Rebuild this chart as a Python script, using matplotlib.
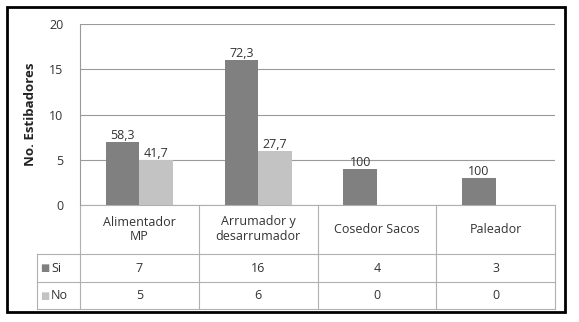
import matplotlib
matplotlib.use("Agg")
import matplotlib.pyplot as plt
from matplotlib.transforms import blended_transform_factory
from matplotlib.patches import Rectangle

categories = ["Alimentador\nMP", "Arrumador y\ndesarrumador", "Cosedor Sacos", "Paleador"]
series_names = ["Si", "No"]
si_values = [7, 16, 4, 3]
no_values = [5, 6, 0, 0]
si_labels = ["58,3", "72,3", "100", "100"]
no_labels = ["41,7", "27,7", "", ""]
yticks = [0, 5, 10, 15, 20]

plt.rcParams['font.family'] = ['Open Sans', 'DejaVu Sans']
FS = 9
W, H = 579, 322
fig = plt.figure(figsize=(W / 100, H / 100), dpi=100)
fig.patch.set_facecolor("white")

# outer border
fig.add_artist(Rectangle((7 / W, 1 - 312 / H), (565 - 7) / W, (312 - 7) / H,
                         transform=fig.transFigure, fill=False, edgecolor="black", lw=2))

left, right, top, zero = 80, 555, 24, 205
ax = fig.add_axes([left / W, 1 - zero / H, (right - left) / W, (zero - top) / H])

c_si = "#808080"
c_no = "#c3c3c3"
grid_c = "#9a9a9a"
text_c = "#333333"

x = list(range(len(categories)))
bw = 0.282
b1 = ax.bar([i - bw / 2 for i in x], si_values, width=bw, color=c_si, zorder=3)
b2 = ax.bar([i + bw / 2 for i in x], no_values, width=bw, color=c_no, zorder=3)
for rect, lab in zip(b1, si_labels):
    ax.annotate(lab, (rect.get_x() + rect.get_width() / 2, rect.get_height()),
                xytext=(0, 0), textcoords="offset points", ha="center", va="bottom",
                fontsize=FS, color=text_c)
for rect, lab in zip(b2, no_labels):
    if lab:
        ax.annotate(lab, (rect.get_x() + rect.get_width() / 2, rect.get_height()),
                    xytext=(0, 0), textcoords="offset points", ha="center", va="bottom",
                    fontsize=FS, color=text_c)

ax.set_xlim(-0.5, len(categories) - 0.5)
ax.set_ylim(0, 20)
ax.set_yticks(yticks)
ax.set_yticklabels([str(t) for t in yticks], fontsize=FS, color=text_c)
ax.tick_params(axis="y", length=0, pad=12)
ax.set_xticks([])
for s in ["top", "right", "bottom"]:
    ax.spines[s].set_visible(False)
ax.spines["left"].set_color(grid_c)
ax.spines["left"].set_linewidth(0.8)
ax.yaxis.grid(True, color=grid_c, lw=0.8, zorder=0)
ax.set_ylabel("No. Estibadores", fontsize=9.5, fontweight="bold", color="#222222", labelpad=9)

# data table below
tr = blended_transform_factory(ax.transData, ax.transAxes)
ph = zero - top
def ya(py):
    return (zero - py) / ph
y_head = ya(254)
y_si = ya(282)
y_no = ya(309)
xl = (37 - left) / ((right - left) / len(categories)) - 0.5
xr = len(categories) - 0.5
lkw = dict(transform=tr, color="#b0b0b0", lw=0.8, clip_on=False)
ax.plot([-0.5, xr], [0, 0], **lkw)
ax.plot([xl, xr], [y_head, y_head], **lkw)
ax.plot([xl, xr], [y_si, y_si], **lkw)
ax.plot([xl, xr], [y_no, y_no], **lkw)
ax.plot([xl, xl], [y_head, y_no], **lkw)
for b in [i - 0.5 for i in range(len(categories) + 1)]:
    ax.plot([b, b], [0, y_no], **lkw)

for i, cat in enumerate(categories):
    ax.text(i, y_head / 2, cat, transform=tr, ha="center", va="center", fontsize=FS,
            color=text_c, linespacing=1.2)
    ax.text(i, (y_head + y_si) / 2, str(si_values[i]), transform=tr, ha="center",
            va="center", fontsize=FS, color=text_c)
    ax.text(i, (y_si + y_no) / 2, str(no_values[i]), transform=tr, ha="center",
            va="center", fontsize=FS, color=text_c)

for name, c, (ya0, ya1) in zip(series_names, [c_si, c_no], [(y_head, y_si), (y_si, y_no)]):
    ym = (ya0 + ya1) / 2
    ax.text(xl + 0.03, ym, "\u25a0", transform=tr, ha="left", va="center",
            fontsize=7, color=c, family="DejaVu Sans")
    ax.text(xl + 0.12, ym, name, transform=tr, ha="left", va="center",
            fontsize=FS, color=text_c)

fig.savefig("out.png", dpi=100, facecolor="white")
